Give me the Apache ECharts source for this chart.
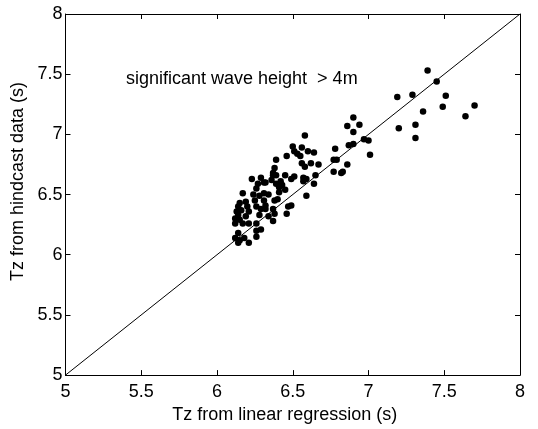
<!DOCTYPE html>
<html><head><meta charset="utf-8">
<script src="https://cdn.jsdelivr.net/npm/echarts@6/dist/echarts.min.js"></script>
<style>html,body{margin:0;padding:0;background:#fff}#c{width:538px;height:429px}</style>
</head><body><div id="c"></div>
<script>
var xTicks = [5, 5.5, 6, 6.5, 7, 7.5, 8];
var yTicks = [5, 5.5, 6, 6.5, 7, 7.5, 8];
var refLine = [5, 8];
var annotation = 'significant wave height  > 4m';
var xName = 'Tz from linear regression (s)';
var yName = 'Tz from hindcast data (s)';
var xVals = [7.39,7.45,7.19,7.29,7.51,7.70,7.64,7.49,7.36,7.20,7.31,7.31,7.01,6.78,6.87,6.90,6.86,6.90,6.94,6.90,6.97,7.00,6.77,6.79,6.86,6.77,6.82,6.83,
6.58,6.50,6.56,6.53,6.55,6.60,6.64,6.46,6.39,6.56,6.62,6.67,6.58,6.38,6.37,6.45,6.39,6.51,6.57,6.59,6.65,6.23,6.29,6.27,6.32,6.36,6.39,6.43,6.42,6.49,6.57,6.64,6.59,6.49,6.47,6.46,6.40,6.38,6.41,6.41,6.45,6.17,6.26,6.24,6.28,6.31,6.34,6.25,6.31,6.32,6.29,6.32,6.26,6.37,6.38,6.34,6.28,6.15,6.14,6.19,6.20,6.13,6.16,6.21,6.14,6.19,6.12,6.15,6.12,6.17,6.21,6.26,6.37,6.26,6.29,6.26,6.14,6.12,6.15,6.14,6.21,6.18,6.51,6.37,6.31];
var yVals = [7.53,7.44,7.31,7.33,7.32,7.24,7.15,7.23,7.19,7.05,7.08,6.97,6.83,6.88,6.91,6.92,7.07,7.14,7.08,7.02,6.96,6.95,6.79,6.79,6.75,6.69,6.68,6.69,
6.99,6.90,6.89,6.84,6.82,6.86,6.85,6.82,6.79,6.76,6.76,6.75,6.73,6.72,6.68,6.66,6.66,6.65,6.64,6.63,6.66,6.63,6.64,6.59,6.60,6.62,6.59,6.58,6.61,6.63,6.61,6.59,6.49,6.41,6.40,6.34,6.46,6.45,6.52,6.56,6.54,6.51,6.55,6.50,6.49,6.51,6.50,6.45,6.45,6.41,6.38,6.38,6.40,6.38,6.34,6.32,6.33,6.43,6.40,6.44,6.40,6.36,6.37,6.36,6.33,6.32,6.30,6.29,6.26,6.26,6.26,6.26,6.28,6.20,6.21,6.15,6.18,6.14,6.12,6.10,6.10,6.14,6.86,6.66,6.60];

var pts = xVals.map(function(x,i){return [x, yVals[i]];});
var font = 'Liberation Sans, Arial, sans-serif';
var chart = echarts.init(document.getElementById('c'));
var axisCommon = {
  type: 'value', min: 5, max: 8, interval: 0.5,
  axisLine: {show: true, lineStyle: {color: '#000', width: 1}},
  axisTick: {show: true, inside: true, length: 5, lineStyle: {color: '#000'}},
  splitLine: {show: false}
};
function fmt(v){ return String(v); }
chart.setOption({
  animation: false,
  backgroundColor: '#fff',
  grid: {left: 65.5, right: 18, top: 14, bottom: 48},
  xAxis: [
    Object.assign({}, axisCommon, {position: 'bottom', name: xName, nameLocation: 'middle', nameGap: 30,
      nameTextStyle: {fontFamily: font, fontSize: 18, color: '#000', padding: [0, 16, 0, 0]},
      axisLabel: {fontFamily: font, fontSize: 18, color: '#000', margin: 8, formatter: fmt}}),
    Object.assign({}, axisCommon, {position: 'top', axisLabel: {show: false}})
  ],
  yAxis: [
    Object.assign({}, axisCommon, {position: 'left', name: yName, nameLocation: 'middle', nameGap: 37,
      nameTextStyle: {fontFamily: font, fontSize: 18, color: '#000', padding: [0, 0, 0, 26]},
      axisLabel: {fontFamily: font, fontSize: 18, color: '#000', margin: 3, formatter: fmt}}),
    Object.assign({}, axisCommon, {position: 'right', axisLabel: {show: false}})
  ],
  series: [
    {type: 'line', data: [[refLine[0], refLine[0]], [refLine[1], refLine[1]]], showSymbol: false, symbol: 'none',
      lineStyle: {color: '#000', width: 1}, silent: true, z: 1},
    {type: 'scatter', data: pts, symbol: 'circle', symbolSize: 6.5, itemStyle: {color: '#000', opacity: 1}, z: 2}
  ],
  graphic: [{type: 'text', left: 126, top: 70, style: {text: annotation, font: '18px ' + font, fill: '#000'}}]
});
</script></body></html>
